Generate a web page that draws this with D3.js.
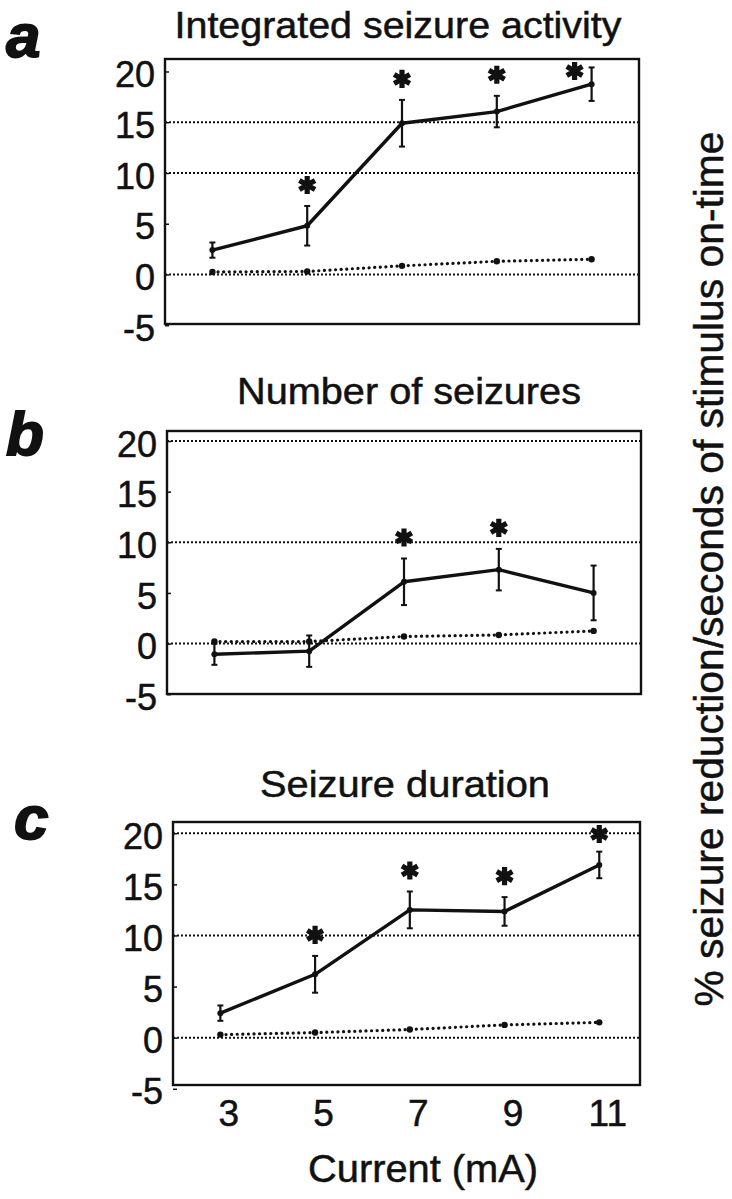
<!DOCTYPE html>
<html>
<head>
<meta charset="utf-8">
<script src="https://cdn.jsdelivr.net/npm/d3@7"></script>
<style>
  body { margin: 0; background: #fff; }
  text { font-family: "Liberation Sans", Arial, sans-serif; fill: #111; stroke: #111; stroke-width: 0.5px; }
</style>
</head>
<body>
<script>
// x values (stimulus current, mA)
var currents = [3, 5, 7, 9, 11];
var yTicks = [-5, 0, 5, 10, 15, 20];

var panelLetters = ["a", "b", "c"];
var panelTitles = ["Integrated seizure activity", "Number of seizures", "Seizure duration"];

// a: integrated seizure activity
var intStim = [2.4, 4.8, 14.9, 16.05, 18.75];
var intStimErr = [0.75, 1.95, 2.3, 1.55, 1.65];
var intCtrl = [0.25, 0.3, 0.85, 1.3, 1.5];
var intSig = [false, true, true, true, true];

// b: number of seizures
var numStim = [-1.05, -0.75, 6.1, 7.3, 5.0];
var numStimErr = [1.05, 1.55, 2.3, 2.05, 2.7];
var numCtrl = [0.2, 0.2, 0.7, 0.85, 1.25];
var numSig = [false, false, true, true, false];

// c: seizure duration
var durStim = [2.4, 6.2, 12.5, 12.35, 16.9];
var durStimErr = [0.75, 1.8, 1.8, 1.4, 1.3];
var durCtrl = [0.3, 0.5, 0.8, 1.25, 1.5];
var durSig = [false, true, true, true, true];

var gridA = [15, 10, 0];
var gridBC = [20, 10, 0];

var panels = [
  {stim: intStim, err: intStimErr, ctrl: intCtrl, sig: intSig, grid: gridA,
   l: 165, r: 639, t: 59, b: 324, yDom: [-4.88, 21.23], xDom: [2, 12],
   titleX: 398, titleY: 38, titleW: 447, letterX: 6, letterY: 57},
  {stim: numStim, err: numStimErr, ctrl: numCtrl, sig: numSig, grid: gridBC,
   l: 167, r: 641, t: 431, b: 694, yDom: [-4.98, 20.99], xDom: [2, 12],
   titleX: 409, titleY: 404, titleW: 344, letterX: 6, letterY: 455},
  {stim: durStim, err: durStimErr, ctrl: durCtrl, sig: durSig, grid: gridBC,
   l: 173, r: 640, t: 822, b: 1085, yDom: [-4.63, 21.1], xDom: [2, 11.86],
   titleX: 405, titleY: 797, titleW: 290, letterX: 14, letterY: 839}
];

var svg = d3.select("body").append("svg")
    .attr("width", 732)
    .attr("height", 1199);

svg.append("rect").attr("width", 732).attr("height", 1199).attr("fill", "#fff");

var star = d3.symbol().type(d3.symbolAsterisk).size(230);
var plain = function(d) {return String(d);};   // keep hyphen-minus like the original

panels.forEach(function(p, k) {
    var x = d3.scaleLinear().domain(p.xDom).range([p.l, p.r]);
    var y = d3.scaleLinear().domain(p.yDom).range([p.b, p.t]);
    var g = svg.append("g");

    // dotted gridlines
    g.selectAll("line.grid")
        .data(p.grid)
        .enter()
        .append("line")
        .attr("x1", p.l).attr("x2", p.r)
        .attr("y1", function(d) {return y(d);})
        .attr("y2", function(d) {return y(d);})
        .attr("stroke", "#111")
        .attr("stroke-width", 2)
        .attr("stroke-dasharray", "2,2");

    // frame
    g.append("rect")
        .attr("x", p.l).attr("y", p.t)
        .attr("width", p.r - p.l).attr("height", p.b - p.t)
        .attr("fill", "none")
        .attr("stroke", "#111")
        .attr("stroke-width", 2.4);

    // left axis labels
    var ax = g.append("g")
        .attr("transform", "translate(" + p.l + ",0)")
        .call(d3.axisLeft(y).tickValues(yTicks).tickFormat(plain)
            .tickSizeInner(-4).tickSizeOuter(0).tickPadding(10));
    ax.select(".domain").remove();
    ax.selectAll(".tick line").attr("stroke", "#111").attr("stroke-width", 1.5);
    ax.selectAll(".tick text")
        .attr("font-size", 36)
        .attr("font-family", "Liberation Sans, Arial, sans-serif")
        .attr("fill", "#111")
        .attr("dy", "0.42em");

    // control series (dotted)
    var line = d3.line()
        .x(function(d, i) {return x(currents[i]);})
        .y(function(d) {return y(d);});

    g.append("path")
        .datum(p.ctrl)
        .attr("d", line)
        .attr("fill", "none")
        .attr("stroke", "#111")
        .attr("stroke-width", 3.2)
        .attr("stroke-linecap", "round")
        .attr("stroke-dasharray", "0.1,5.5");

    g.selectAll("circle.ctrl")
        .data(p.ctrl)
        .enter()
        .append("circle")
        .attr("cx", function(d, i) {return x(currents[i]);})
        .attr("cy", function(d) {return y(d);})
        .attr("r", 3.2)
        .attr("fill", "#111");

    // stimulated series (solid) with error bars
    g.selectAll("line.err")
        .data(p.stim)
        .enter()
        .append("line")
        .attr("x1", function(d, i) {return x(currents[i]);})
        .attr("x2", function(d, i) {return x(currents[i]);})
        .attr("y1", function(d, i) {return y(d - p.err[i]);})
        .attr("y2", function(d, i) {return y(d + p.err[i]);})
        .attr("stroke", "#111")
        .attr("stroke-width", 2.2);

    [-1, 1].forEach(function(s) {
        g.selectAll("line.cap" + s)
            .data(p.stim)
            .enter()
            .append("line")
            .attr("x1", function(d, i) {return x(currents[i]) - 3;})
            .attr("x2", function(d, i) {return x(currents[i]) + 3;})
            .attr("y1", function(d, i) {return y(d + s * p.err[i]);})
            .attr("y2", function(d, i) {return y(d + s * p.err[i]);})
            .attr("stroke", "#111")
            .attr("stroke-width", 2);
    });

    g.append("path")
        .datum(p.stim)
        .attr("d", line)
        .attr("fill", "none")
        .attr("stroke", "#111")
        .attr("stroke-width", 3.4)
        .attr("stroke-linejoin", "round");

    g.selectAll("circle.stim")
        .data(p.stim)
        .enter()
        .append("circle")
        .attr("cx", function(d, i) {return x(currents[i]);})
        .attr("cy", function(d) {return y(d);})
        .attr("r", 3)
        .attr("fill", "#111");

    // significance stars
    var sigIdx = p.sig.map(function(s, i) {return s ? i : -1;}).filter(function(i) {return i >= 0;});
    g.selectAll("path.star")
        .data(sigIdx)
        .enter()
        .append("path")
        .attr("d", star)
        .attr("transform", function(i) {
            var top = y(p.stim[i] + p.err[i]) - 21;
            var minY = p.t + 12;
            var cx = x(currents[i]);
            if (top < minY - 10) { cx -= 17; }
            return "translate(" + cx + "," + Math.max(top, minY) + ")";
        })
        .attr("fill", "none")
        .attr("stroke", "#111")
        .attr("stroke-width", 5.2);

    // title
    g.append("text")
        .attr("x", p.titleX)
        .attr("y", p.titleY)
        .attr("text-anchor", "middle")
        .attr("font-size", 37)
        .attr("textLength", p.titleW)
        .attr("lengthAdjust", "spacingAndGlyphs")
        .text(panelTitles[k]);

    // panel letter
    g.append("text")
        .attr("x", p.letterX)
        .attr("y", p.letterY)
        .attr("font-size", 62)
        .attr("font-weight", "bold")
        .attr("font-style", "italic")
        .style("stroke-width", "1.8px")
        .text(panelLetters[k]);

    // x axis under last panel only
    if (k === panels.length - 1) {
        var xa = g.append("g")
            .attr("transform", "translate(8," + p.b + ")")
            .call(d3.axisBottom(x).tickValues(currents).tickFormat(plain).tickSize(0).tickPadding(15));
        xa.select(".domain").remove();
        xa.selectAll(".tick text")
            .attr("font-size", 37)
            .attr("font-family", "Liberation Sans, Arial, sans-serif")
            .attr("fill", "#111");

        g.append("text")
            .attr("x", 423)
            .attr("y", 1182)
            .attr("text-anchor", "middle")
            .attr("font-size", 38)
            .attr("textLength", 230)
            .attr("lengthAdjust", "spacingAndGlyphs")
            .text("Current (mA)");
    }
});

// shared y label on the right
svg.append("text")
    .attr("transform", "translate(723,569) rotate(-90)")
    .attr("text-anchor", "middle")
    .attr("font-size", 40)
    .attr("textLength", 875)
    .attr("lengthAdjust", "spacingAndGlyphs")
    .text("% seizure reduction/seconds of stimulus on-time");
</script>
</body>
</html>
